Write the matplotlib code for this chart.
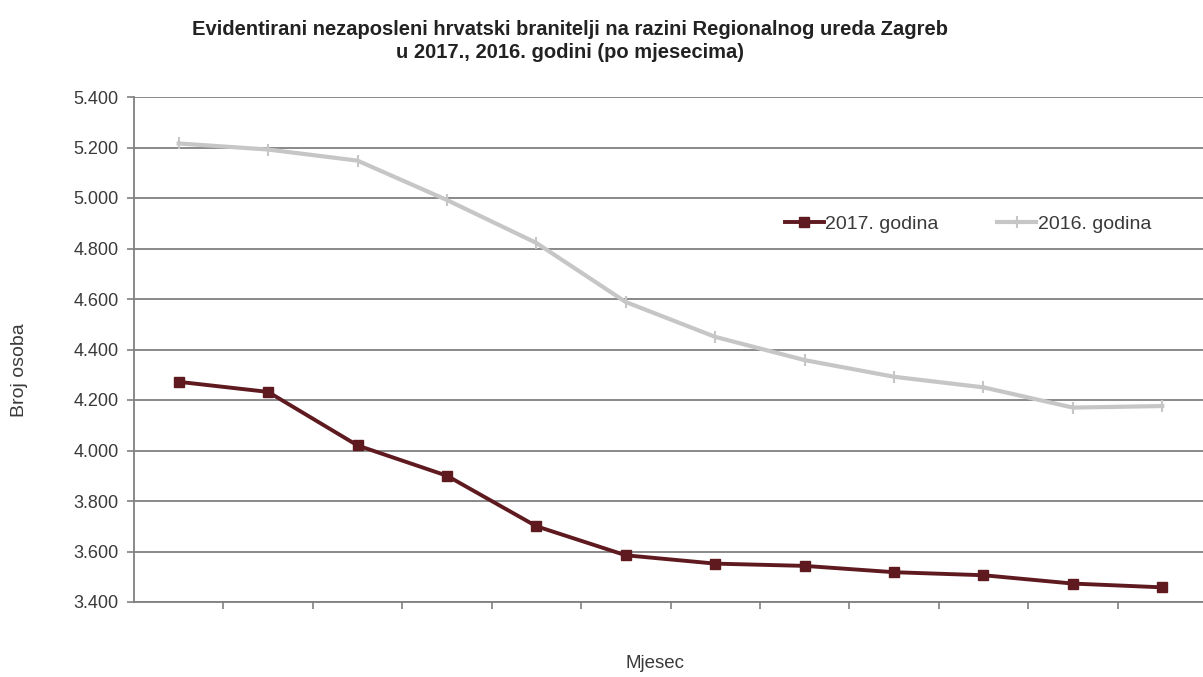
import matplotlib
matplotlib.use("Agg")
import matplotlib.pyplot as plt
from matplotlib.ticker import FuncFormatter, FixedLocator, MultipleLocator

months = list(range(1, 13))
values_2017 = [4272, 4232, 4020, 3900, 3700, 3585, 3552, 3543, 3518, 3506, 3473, 3458]
values_2016 = [5216, 5192, 5148, 4992, 4822, 4588, 4450, 4358, 4292, 4250, 4170, 4176]
label_2017 = "2017. godina"
label_2016 = "2016. godina"
title = "Evidentirani nezaposleni hrvatski branitelji na razini Regionalnog ureda Zagreb\nu 2017., 2016. godini (po mjesecima)"

fam = ["Liberation Sans", "DejaVu Sans"]
plt.rcParams['font.family'] = fam

W, H = 1203, 677
fig = plt.figure(figsize=(W / 100, H / 100), dpi=100)
left_px, right_px, top_px, bot_px = 134, 1207, 97, 602
ax = fig.add_axes([left_px / W, (H - bot_px) / H, (right_px - left_px) / W, (bot_px - top_px) / H])

x = list(range(len(months)))
ax.plot(x, values_2016, color="#c6c6c6", lw=3, marker="|", ms=9, mew=1.5, label=label_2016, zorder=3)
ax.plot(x, values_2017, color="#5e1a1f", lw=2.8, marker="s", ms=7, label=label_2017, zorder=4)

ax.set_xlim(-0.5, len(months) - 0.5)
ax.set_ylim(3400, 5400)
ax.yaxis.set_major_locator(MultipleLocator(200))
ax.yaxis.set_major_formatter(FuncFormatter(lambda v, p: f"{int(v):,}".replace(",", ".")))
ax.xaxis.set_major_locator(FixedLocator([i + 0.5 for i in range(len(months))]))
ax.set_xticklabels([])
ax.grid(axis="y", color="#808080", lw=1.3)
ax.set_axisbelow(True)
for s in ["top", "right"]:
    ax.spines[s].set_visible(False)
for s in ["left", "bottom"]:
    ax.spines[s].set_color("#808080")
    ax.spines[s].set_linewidth(1.3)
ax.tick_params(axis="both", color="#808080", length=5, width=1.2, direction="out")
ax.tick_params(axis="y", labelsize=13, labelcolor="#3a3a3a", pad=6)

fig.text(570 / W, 1 - 41 / H, title, ha="center", va="center", fontsize=14.5,
         fontweight="bold", color="#222222", linespacing=1.3)
fig.text(20 / W, 1 - 370 / H, "Broj osoba", rotation=90, ha="center", va="center",
         fontsize=14, color="#3a3a3a")
fig.text(655 / W, 1 - 664 / H, "Mjesec", ha="center", va="center", fontsize=13.5, color="#3a3a3a")

handles, labels = ax.get_legend_handles_labels()
leg = ax.legend(handles[::-1], labels[::-1], loc="center", bbox_to_anchor=(968 / W, 1 - 224 / H),
                bbox_transform=fig.transFigure, ncol=2, frameon=False, fontsize=14,
                handlelength=2.0, handletextpad=0.1, columnspacing=3.0)
for t in leg.get_texts():
    t.set_color("#3a3a3a")

fig.savefig("out.png", dpi=100)
